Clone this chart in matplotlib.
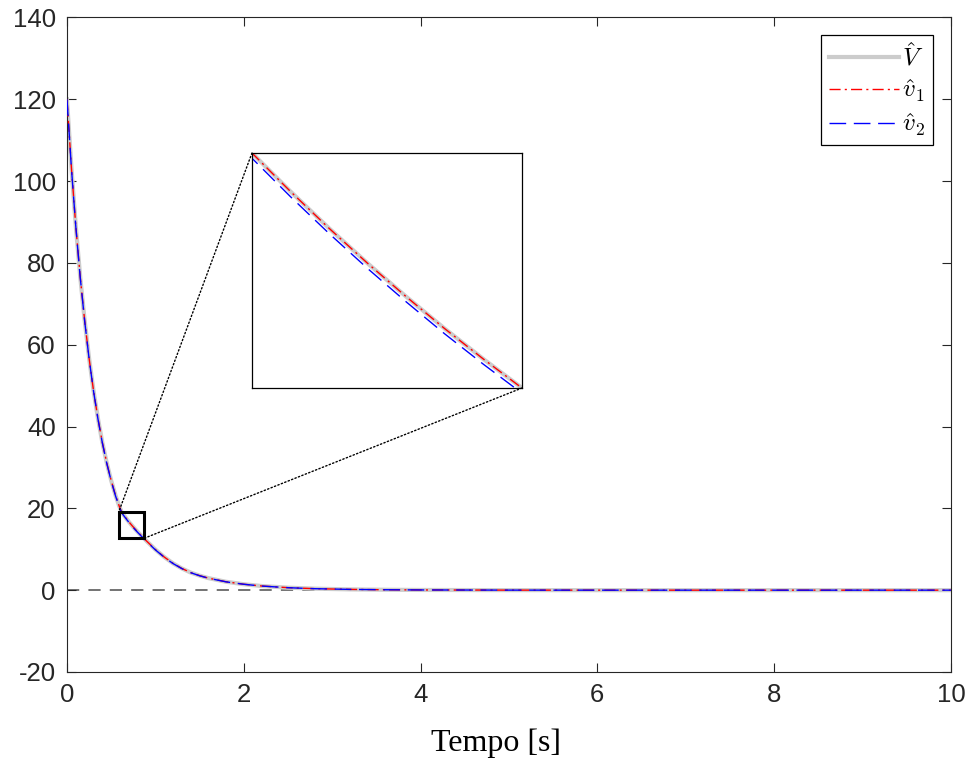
import matplotlib
matplotlib.use("Agg")
import matplotlib.pyplot as plt
from matplotlib.patches import Rectangle, ConnectionPatch

# time samples [s] and Lyapunov function estimates
t = [0, 0.05, 0.1, 0.15, 0.2, 0.25, 0.3, 0.35, 0.4, 0.45,
     0.5, 0.55, 0.59, 0.62, 0.65, 0.68, 0.71, 0.74, 0.77, 0.8,
     0.83, 0.87, 0.9, 1.0, 1.1, 1.2, 1.3, 1.4, 1.5, 1.6,
     1.8, 2.0, 2.2, 2.5, 2.8, 3.2, 3.6, 4.0, 5.0, 6.0,
     7.0, 8.0, 9.0, 10.0]
V_hat = [120.0, 103.3, 88.9, 76.5, 65.9, 56.7, 48.8, 42.0, 36.1, 31.1,
         26.8, 23.1, 20.6, 19.0, 18.11, 17.26, 16.45, 15.68, 14.94, 14.24,
         13.57, 12.68, 12.01, 9.93, 8.10, 6.55, 5.30, 4.30, 3.55, 2.94,
         2.05, 1.45, 1.02, 0.61, 0.37, 0.19, 0.10, 0.05, 0.01, 0.0,
         0.0, 0.0, 0.0, 0.0]
v1_hat = [120.0, 103.3, 88.9, 76.5, 65.9, 56.7, 48.8, 42.0, 36.1, 31.1,
          26.8, 23.1, 20.6, 19.0, 18.11, 17.26, 16.45, 15.68, 14.94, 14.24,
          13.57, 12.68, 12.01, 9.93, 8.10, 6.55, 5.30, 4.30, 3.55, 2.94,
          2.05, 1.45, 1.02, 0.61, 0.37, 0.19, 0.10, 0.05, 0.01, 0.0,
          0.0, 0.0, 0.0, 0.0]
v2_hat = [120.0, 103.2, 88.8, 76.4, 65.8, 56.6, 48.7, 41.9, 36.0, 31.0,
          26.7, 22.98, 20.48, 18.88, 17.99, 17.14, 16.33, 15.56, 14.82, 14.12,
          13.45, 12.57, 11.91, 9.85, 8.04, 6.50, 5.26, 4.27, 3.52, 2.92,
          2.03, 1.44, 1.01, 0.60, 0.36, 0.19, 0.10, 0.05, 0.01, 0.0,
          0.0, 0.0, 0.0, 0.0]

# zoom window
zoom_x = [0.62, 0.83]
zoom_y = [13.57, 19.0]
box_x = [0.585, 0.875]
box_y = [12.7, 19.1]

plt.rcParams['font.family'] = 'Liberation Sans'
plt.rcParams['mathtext.fontset'] = 'cm'
plt.rcParams['axes.unicode_minus'] = False
ax_col = (0.15, 0.15, 0.15)
gray = (0.8, 0.8, 0.8)
dashdot = (0, (8, 3, 1.5, 3))
dashed = (0, (12, 5.5))

fig = plt.figure(figsize=(9.68, 7.67), dpi=100)
ax = fig.add_axes([0.0692, 0.1239, 0.9132, 0.8533])

ax.axhline(0, color=(0.3, 0.3, 0.3), linestyle=(0, (8, 6)), linewidth=1.1, zorder=1)
ax.plot(t, V_hat, color=gray, linewidth=3, label=r'$\hat{V}$', zorder=2)
ax.plot(t, v1_hat, color='r', linestyle=dashdot, linewidth=1, label=r'$\hat{v}_1$', zorder=3)
ax.plot(t, v2_hat, color='b', linestyle=dashed, linewidth=1, label=r'$\hat{v}_2$', zorder=4)

ax.add_patch(Rectangle((box_x[0], box_y[0]), box_x[1] - box_x[0], box_y[1] - box_y[0],
                       fill=False, edgecolor='k', linewidth=2.2, zorder=5))

ax.set_xlim(0, 10)
ax.set_ylim(-20, 140)
ax.set_xticks(range(0, 11, 2))
ax.set_yticks(range(-20, 141, 20))
ax.tick_params(direction='in', length=6.5, width=0.8, top=True, right=True,
               labelsize=18.5, colors=ax_col, pad=8)
for s in ax.spines.values():
    s.set_color(ax_col)
    s.set_linewidth(0.8)
ax.set_xlabel('Tempo [s]', fontname='Liberation Serif', fontsize=23)
ax.xaxis.set_label_coords(0.4853, -0.087)

leg = ax.legend(loc='upper right', bbox_to_anchor=(0.9638, 0.9544),
                bbox_transform=fig.transFigure, borderaxespad=0, fontsize=18,
                fancybox=False, framealpha=1, edgecolor='k', handlelength=2.8,
                handletextpad=0.15, labelspacing=0.3, borderpad=0.3)
leg.get_frame().set_linewidth(0.9)

# magnified inset
axin = fig.add_axes([0.2603, 0.4941, 0.2789, 0.3064])
axin.plot(t, V_hat, color=gray, linewidth=3)
axin.plot(t, v1_hat, color='r', linestyle=dashdot, linewidth=1)
axin.plot(t, v2_hat, color='b', linestyle=dashed, linewidth=1)
axin.set_xlim(zoom_x)
axin.set_ylim(zoom_y)
axin.set_xticks([])
axin.set_yticks([])
for s in axin.spines.values():
    s.set_color('k')
    s.set_linewidth(0.9)

for a_pt, b_pt in [((0, 1), (box_x[0], box_y[1])), ((1, 0), (box_x[1], box_y[0]))]:
    con = ConnectionPatch(xyA=a_pt, coordsA=axin.transAxes, xyB=b_pt, coordsB=ax.transData,
                          linestyle=':', color='k', linewidth=1)
    fig.add_artist(con)

fig.savefig('out.png', dpi=100)
